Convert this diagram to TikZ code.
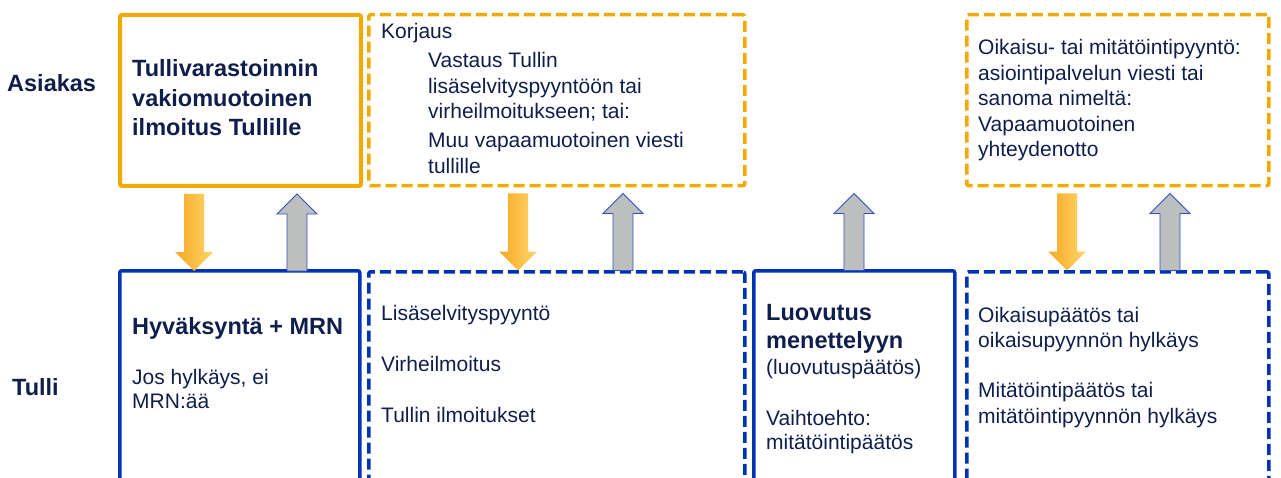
\documentclass[tikz,border=0pt]{standalone}
\usepackage{fontspec}
\setmainfont{Liberation Sans}
\definecolor{org}{HTML}{F2AA00}
\definecolor{blu}{HTML}{0033B4}
\definecolor{navy}{HTML}{0F1E4B}
\definecolor{arrL}{HTML}{F7A823}
\definecolor{arrR}{HTML}{FFD56A}
\definecolor{gry}{HTML}{BDBEBE}
\definecolor{gryedge}{HTML}{3050C0}
\tikzset{
  box/.style={rectangle, inner sep=0pt, anchor=north west, rounded corners=2pt},
  obox/.style={box, draw=org, line width=4pt},
  odbox/.style={box, draw=org, line width=3.5pt, dash pattern=on 11pt off 5pt},
  bbox/.style={box, draw=blu, line width=3.5pt},
  bdbox/.style={box, draw=blu, line width=3.5pt, dash pattern=on 11pt off 5pt},
  txt/.style={anchor=base west, inner sep=0pt, align=left, text=navy, font=\fontsize{21}{25.5}\selectfont},
  btxt/.style={anchor=base west, inner sep=0pt, align=left, text=navy, font=\fontsize{23.5}{29.5}\selectfont\bfseries},
  darr/.pic={\shade[left color=arrL, right color=arrR] (-10,6) -- (10,6) -- (10,64) -- (19,64) -- (0,83) -- (-19,64) -- (-10,64) -- cycle;},
  uarr/.pic={\draw[fill=gry, draw=gryedge, line width=0.9pt, line join=miter] (-10,83) -- (-10,26) -- (-20,26) -- (0,6) -- (20,26) -- (10,26) -- (10,83) -- cycle;}
}
\begin{document}
\begin{tikzpicture}[x=1pt,y=-1pt]
\useasboundingbox (0,0) rectangle (1281,478);
\clip (0,0) rectangle (1281,478);
% top row
\node[obox, minimum width=241pt, minimum height=171pt] (A) at (118,13) {};
\node[odbox, minimum width=376pt, minimum height=171pt] (B) at (367,13) {};
\node[odbox, minimum width=302pt, minimum height=171pt] (C) at (965,13) {};
% bottom row
\node[bbox, minimum width=240pt, minimum height=240pt] (D) at (118,269) {};
\node[bdbox, minimum width=376pt, minimum height=240pt] (E) at (367,270) {};
\node[bbox, minimum width=201pt, minimum height=240pt] (F) at (752,269) {};
\node[bdbox, minimum width=302pt, minimum height=240pt] (G) at (965,270) {};
% row labels
\node[btxt] (asiakas) at (7,92) {Asiakas};
\node[btxt] (tulli) at (12,395) {Tulli};
% texts (anchor = baseline of the last line)
\node[btxt] (tA) at (132,136) {Tullivarastoinnin\\vakiomuotoinen\\ilmoitus Tullille};
\node[txt] (tB1) at (381,39) {Korjaus};
\node[txt] (tB2) at (428,119) {Vastaus Tullin\\lisäselvityspyyntöön tai\\virheilmoitukseen; tai:};
\node[txt, font=\fontsize{21}{26}\selectfont] (tB3) at (428,174) {Muu vapaamuotoinen viesti\\tullille};
\node[txt] (tC) at (978,157) {Oikaisu- tai mitätöintipyyntö:\\asiointipalvelun viesti tai\\sanoma nimeltä:\\Vapaamuotoinen\\yhteydenotto};
\node[btxt] (tD1) at (132,334) {Hyväksyntä + MRN};
\node[txt, font=\fontsize{21}{24.5}\selectfont] (tD2) at (132,408.5) {Jos hylkäys, ei\\MRN:ää};
\node[txt] (tE1) at (381,320) {Lisäselvityspyyntö};
\node[txt] (tE2) at (381,371) {Virheilmoitus};
\node[txt] (tE3) at (381,422) {Tullin ilmoitukset};
\node[btxt, font=\fontsize{23.5}{28}\selectfont\bfseries] (tF1) at (766,348) {Luovutus\\menettelyyn};
\node[txt] (tF2) at (766,374) {(luovutuspäätös)};
\node[txt, font=\fontsize{21}{24.5}\selectfont] (tF3) at (766,449.5) {Vaihtoehto:\\mitätöintipäätös};
\node[txt, font=\fontsize{21}{25}\selectfont] (tG1) at (978,347) {Oikaisupäätös tai\\oikaisupyynnön hylkäys};
\node[txt, font=\fontsize{21}{25.5}\selectfont] (tG2) at (978,423) {Mitätöintipäätös tai\\mitätöintipyynnön hylkäys};
% arrows between rows
\pic at (194,0 |- A.south) {darr};
\pic at (297,0 |- A.south) {uarr};
\pic at (518,0 |- B.south) {darr};
\pic at (623,0 |- B.south) {uarr};
\pic at (854,0 |- B.south) {uarr};
\pic at (1067,0 |- C.south) {darr};
\pic at (1170,0 |- C.south) {uarr};
\end{tikzpicture}
\end{document}
